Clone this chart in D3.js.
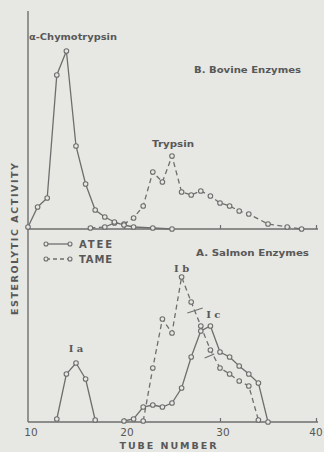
<!DOCTYPE html>
<html><head><meta charset="utf-8">
<script src="https://cdn.jsdelivr.net/npm/d3@7"></script>
<style>
html,body{margin:0;padding:0;background:#e7e7e3;}
svg{display:block;}
</style></head>
<body>
<svg id="c" width="324" height="452"></svg>
<script>
// ---- Data ----
// Top panel: B. Bovine Enzymes
const chymoTubes = [10, 11, 12, 13, 14, 15, 16, 17, 18, 19, 20, 21, 23, 25];
const chymoVals  = [1, 11, 15.5, 77, 89, 41.5, 22.5, 9.5, 6, 3.5, 2, 1, 0.5, 0];
const trypTubes  = [16.5, 18, 19, 20, 21, 22, 23, 24, 25, 26, 27, 28, 29, 30, 31, 32, 33, 35, 37, 38.5];
const trypVals   = [0.5, 1, 3, 2.5, 5.5, 11.5, 28.5, 23.5, 36.5, 18.5, 17, 19, 16.5, 13, 11.5, 9, 7.5, 2.5, 1, 0];
// Bottom panel: A. Salmon Enzymes
const iaTubes    = [13, 14, 15, 16, 17];
const iaVals     = [1.5, 24, 29.5, 21.5, 1];
const ateeTubes  = [20, 21, 22, 23, 24, 25, 26, 27, 28, 29, 30, 31, 32, 33, 34, 35];
const ateeVals   = [0.5, 1.5, 7.5, 8.5, 7.5, 9.5, 17, 32.5, 45.5, 48, 35, 32.5, 28, 24, 19.5, 0];
const tameTubes  = [22, 23, 24, 25, 26, 27, 28, 29, 30, 31, 32, 33, 34];
const tameVals   = [0.5, 27, 51.5, 44.5, 72.5, 60, 48, 36, 27, 24, 20.5, 18, 1];
// Axis ticks
const xTicks = [10, 20, 30, 40];
const xTickLabels = ["10", "20", "30", "40"];
// Peak labels (tube, activity) in bottom panel
const peakLabels = [
  {t: "I a", tube: 15, v: 37},
  {t: "I b", tube: 26, v: 77},
  {t: "I c", tube: 29.3, v: 54}
];

const zip = (xs, ys) => xs.map((x, i) => [x, ys[i]]);

const svg = d3.select("#c");
const ink = "#6e6e6e";
const txt = "#585858";

const x = d3.scaleLinear().domain([10, 40]).range([28, 316]);
const yTop = d3.scaleLinear().domain([0, 100]).range([229, 29]);
const yBot = d3.scaleLinear().domain([0, 100]).range([422, 222]);

// Left axis
svg.append("line").attr("x1", 28).attr("x2", 28).attr("y1", 11).attr("y2", yBot(0))
  .attr("stroke", ink).attr("stroke-width", 1.4);

// Bottom axes for each panel with inward ticks
function xAxis(yScale) {
  const g = svg.append("g").attr("transform", `translate(0,${yScale(0)})`);
  const ax = d3.axisTop(x).tickValues(xTicks.slice(1)).tickSize(4).tickFormat("");
  g.call(ax);
  g.select(".domain").attr("d", `M${x(10)},0H${x(40) + 2}`).attr("stroke", ink).attr("stroke-width", 1.4);
  g.selectAll(".tick line").attr("stroke", ink).attr("stroke-width", 1.2);
}
xAxis(yTop);
xAxis(yBot);

// tick labels
svg.append("g").selectAll("text").data(xTicks).join("text")
  .attr("x", d => x(d) + (d === 40 ? 0 : 3)).attr("y", 436)
  .attr("text-anchor", "middle")
  .attr("font-family", "DejaVu Sans, sans-serif").attr("font-size", 10.5)
  .attr("fill", txt)
  .text((d, i) => xTickLabels[i]);

svg.append("text").attr("x", 168).attr("y", 449)
  .attr("text-anchor", "middle")
  .attr("font-family", "DejaVu Sans, sans-serif").attr("font-weight", "bold").attr("font-size", 9.5)
  .attr("textLength", 97).attr("lengthAdjust", "spacing")
  .attr("fill", txt).text("TUBE NUMBER");

svg.append("text").attr("transform", "translate(18,239) rotate(-90)")
  .attr("text-anchor", "middle")
  .attr("font-family", "DejaVu Sans, sans-serif").attr("font-weight", "bold").attr("font-size", 9.5)
  .attr("textLength", 152).attr("lengthAdjust", "spacing")
  .attr("fill", txt).text("ESTEROLYTIC ACTIVITY");

// Series drawing
function series(data, yScale, dashed) {
  const line = d3.line().x(d => x(d[0])).y(d => yScale(d[1]));
  svg.append("path").datum(data).attr("d", line)
    .attr("fill", "none").attr("stroke", ink).attr("stroke-width", 1.3)
    .attr("stroke-dasharray", dashed ? "5,3.5" : null);
  svg.append("g").selectAll("circle").data(data).join("circle")
    .attr("cx", d => x(d[0])).attr("cy", d => yScale(d[1])).attr("r", 2.3)
    .attr("fill", "#e7e7e3").attr("stroke", ink).attr("stroke-width", 1.1);
}
series(zip(trypTubes, trypVals), yTop, true);
series(zip(chymoTubes, chymoVals), yTop, false);
series(zip(iaTubes, iaVals), yBot, false);
series(zip(tameTubes, tameVals), yBot, true);
series(zip(ateeTubes, ateeVals), yBot, false);

// Panel labels
function label(t, xp, yp, w, size) {
  svg.append("text").attr("x", xp).attr("y", yp)
    .attr("font-family", "DejaVu Sans, sans-serif").attr("font-weight", "bold")
    .attr("font-size", size || 9).attr("fill", txt)
    .attr("textLength", w).attr("lengthAdjust", "spacingAndGlyphs").text(t);
}
label("α-Chymotrypsin", 29, 40, 88);
label("B. Bovine Enzymes", 194, 73, 107);
label("Trypsin", 152, 147, 42);
label("A. Salmon Enzymes", 196, 256, 113);

// Legend
const leg = [{name: "ATEE", dashed: false, y: 244}, {name: "TAME", dashed: true, y: 259}];
leg.forEach(l => {
  svg.append("line").attr("x1", 46).attr("x2", 70).attr("y1", l.y).attr("y2", l.y)
    .attr("stroke", ink).attr("stroke-width", 1.3).attr("stroke-dasharray", l.dashed ? "4,3" : null);
  [46, 70].forEach(cx => svg.append("circle").attr("cx", cx).attr("cy", l.y).attr("r", 2)
    .attr("fill", "#e7e7e3").attr("stroke", ink).attr("stroke-width", 1.1));
  svg.append("text").attr("x", 79).attr("y", l.y + 4)
    .attr("font-family", "DejaVu Sans, sans-serif").attr("font-weight", "bold").attr("font-size", 10)
    .attr("textLength", 33).attr("lengthAdjust", "spacing")
    .attr("fill", txt).text(l.name);
});

// Peak labels
svg.append("g").selectAll("text").data(peakLabels).join("text")
  .attr("x", d => x(d.tube)).attr("y", d => yBot(d.v) + 4)
  .attr("text-anchor", "middle")
  .attr("font-family", "DejaVu Serif, serif").attr("font-weight", "bold").attr("font-size", 10)
  .attr("fill", txt).text(d => d.t);

// Ic leader marks
const marks = [
  [[26.6, 54.5], [28.2, 57]],
  [[28.4, 32], [29.4, 34]]
];
marks.forEach(m => svg.append("line")
  .attr("x1", x(m[0][0])).attr("y1", yBot(m[0][1]))
  .attr("x2", x(m[1][0])).attr("y2", yBot(m[1][1]))
  .attr("stroke", ink).attr("stroke-width", 1.1));
</script>
</body></html>
